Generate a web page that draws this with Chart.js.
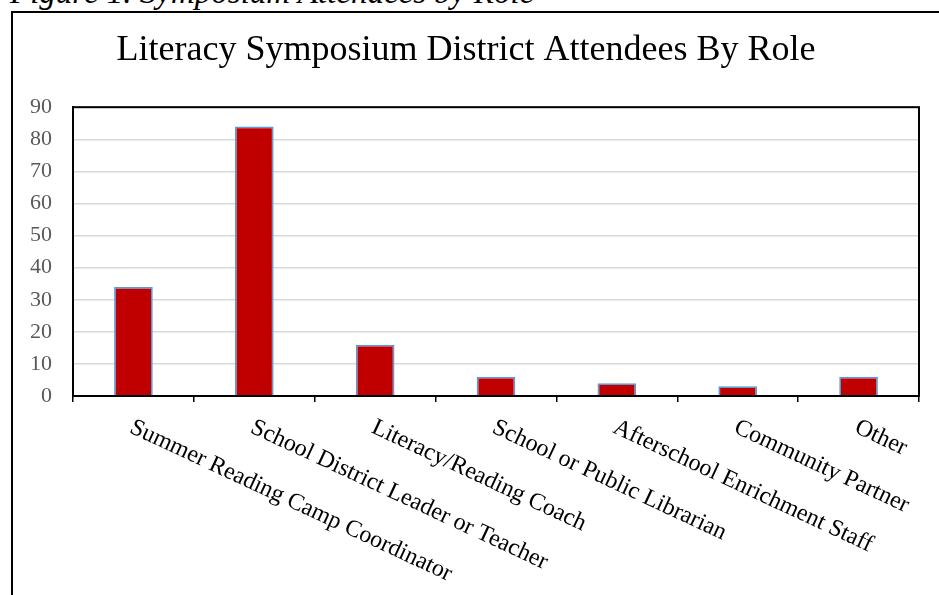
<!DOCTYPE html>
<html>
<head>
<meta charset="utf-8">
<title>Literacy Symposium District Attendees By Role</title>
<script src="https://cdn.jsdelivr.net/npm/chart.js@4.4.1/dist/chart.umd.min.js"></script>
<style>
  html, body { margin: 0; padding: 0; width: 939px; height: 595px; overflow: hidden; background: #fff; }
  #caption { position: absolute; left: 10px; top: -24px; font-family: "Liberation Serif", serif; font-style: italic; font-size: 33px; line-height: 33px; white-space: nowrap; color: #000; }
  #frame { position: absolute; left: 11px; top: 11px; width: 944px; height: 600px; border: 2px solid #000; box-sizing: border-box; }
</style>
</head>
<body>
<div id="caption">Figure 1. Symposium Attendees by Role</div>
<div id="frame"><canvas id="grafico"></canvas></div>
<script>
const roles = [
    'Summer Reading Camp Coordinator',
    'School District Leader or Teacher',
    'Literacy/Reading Coach',
    'School or Public Librarian',
    'Afterschool Enrichment Staff',
    'Community Partner',
    'Other'
];
const attendees = [34, 84, 16, 6, 4, 3, 6];
const yTicks = [0, 10, 20, 30, 40, 50, 60, 70, 80, 90];

// rotated category labels and the plot area box
const extras = {
    id: 'extras',
    afterDraw(chart) {
        const ctx = chart.ctx;
        const area = chart.chartArea;
        const xScale = chart.scales.x;
        ctx.save();
        ctx.strokeStyle = '#000';
        ctx.lineWidth = 2;
        ctx.strokeRect(area.left, area.top, area.right - area.left, area.bottom - area.top);
        ctx.fillStyle = '#000';
        ctx.font = '24px "Liberation Serif"';
        ctx.textAlign = 'left';
        ctx.textBaseline = 'alphabetic';
        roles.forEach((label, i) => {
            ctx.save();
            ctx.translate(xScale.getPixelForValue(i) - 5, area.bottom + 36);
            ctx.rotate(25 * Math.PI / 180);
            ctx.fillText(label, 0, 0);
            ctx.restore();
        });
        ctx.restore();
    }
};

new Chart(document.getElementById('grafico'), {
    type: 'bar',
    data: {
        labels: roles,
        datasets: [{
            data: attendees,
            backgroundColor: '#C00000',
            borderColor: '#5B9BD5',
            borderWidth: 1.75,
            categoryPercentage: 1,
            barPercentage: 0.32
        }]
    },
    options: {
        responsive: true,
        maintainAspectRatio: false,
        animation: false,
        layout: { padding: { left: 0, right: 34, top: 0, bottom: 0 } },
        plugins: {
            legend: { display: false },
            tooltip: { enabled: false },
            title: {
                display: true,
                text: 'Literacy Symposium District Attendees By Role',
                color: '#000',
                font: { family: 'Liberation Serif', size: 36, weight: 'normal' },
                padding: { top: 16, bottom: 35 }
            }
        },
        scales: {
            x: {
                afterFit: (scale) => { scale.height = 213; },
                ticks: { display: false },
                grid: { display: true, drawOnChartArea: false, drawTicks: true, tickLength: 6, color: '#000', lineWidth: 1.5, offset: true },
                border: { display: true, color: '#000', width: 2 }
            },
            y: {
                min: 0,
                max: 90,
                afterFit: (scale) => { scale.width = 60; },
                afterBuildTicks: (scale) => { scale.ticks = yTicks.map(v => ({ value: v })); },
                ticks: { color: '#595959', padding: 21, font: { family: 'Liberation Serif', size: 22 } },
                grid: { color: '#d9d9d9', lineWidth: 1.5, drawTicks: false },
                border: { display: true, color: '#000', width: 2 }
            }
        }
    },
    plugins: [extras]
});
</script>
</body>
</html>
